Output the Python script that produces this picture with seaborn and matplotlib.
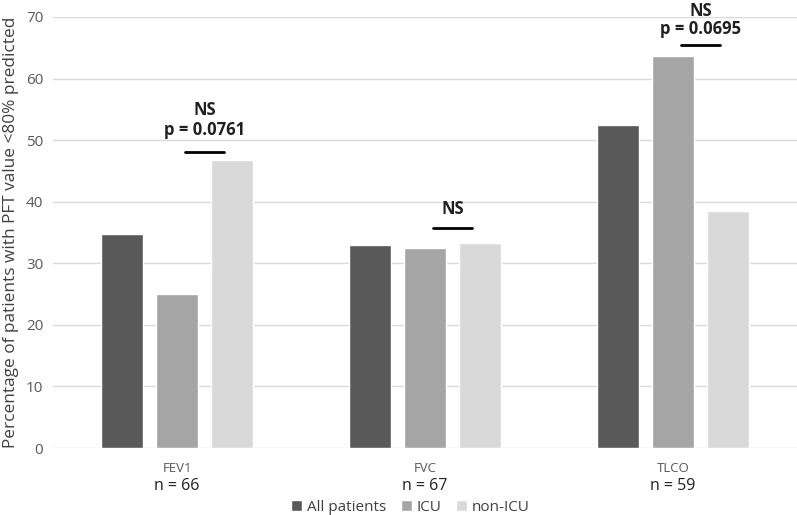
import pandas as pd
import matplotlib
matplotlib.use("Agg")
import matplotlib.pyplot as plt
import matplotlib.transforms as mtransforms
import seaborn as sns


# Values
tests = ["FEV1", "FVC", "TLCO"]
n_labels = ["n = 66", "n = 67", "n = 59"]
groups = ["All patients", "ICU", "non-ICU"]
all_patients = [34.8, 33.0, 52.5]
icu = [25.0, 32.5, 63.6]
non_icu = [46.7, 33.3, 38.5]
colours = ["#595959", "#a5a5a5", "#d9d9d9"]

# significance marks (ICU vs non-ICU): bar height, p-value label
sig_bar = [48.1, 35.7, 65.5]
sig_p = ["p = 0.0761", None, "p = 0.0695"]


def build_df():
    """
    Long format table for seaborn
    """
    rows = []
    for name, vals in zip(groups, [all_patients, icu, non_icu]):
        for t, v in zip(tests, vals):
            rows.append({"test": t, "group": name, "value": v})
    return pd.DataFrame(rows)


def main():
    df = build_df()

    sns.set_style("white")
    plt.rcParams["font.family"] = ["Open Sans", "DejaVu Sans"]

    fig = plt.figure(figsize=(7.97, 5.15), dpi=100)
    ax = fig.add_axes([0.0665, 0.13, 0.9335, 0.837])

    sns.barplot(data=df, x="test", y="value", hue="group", order=tests,
                hue_order=groups, palette=colours, width=0.665, gap=0.22,
                saturation=1, ax=ax, legend=True)

    ax.set_xlim(-0.5, 2.5)
    ax.set_ylim(0, 70)
    ax.set_yticks(range(0, 71, 10))
    ax.yaxis.grid(True, color="#d9d9d9", linewidth=1)
    ax.set_axisbelow(True)
    sns.despine(ax=ax, left=True, bottom=True)
    ax.tick_params(axis="both", length=0, colors="#595959")
    ax.tick_params(axis="y", pad=7, labelsize=11)
    ax.tick_params(axis="x", pad=10, labelsize=9.5)
    ax.set_xlabel("")
    ax.set_ylabel("Percentage of patients with PFT value <80% predicted",
                  fontsize=12.4, color="#404040", labelpad=5)

    # n = .. under each category name
    trans = mtransforms.blended_transform_factory(ax.transData, ax.transAxes)
    for i, lab in enumerate(n_labels):
        ax.text(i, -0.088, lab, transform=trans, ha="center", va="center",
                fontsize=11.5, color="#202020")

    # significance bars between ICU and non-ICU bars
    mid = 0.665 / 6
    # text offsets above the bar, in data units (differ per group as in the original)
    p_off = [3.5, None, 2.5]
    ns_off = [6.8, 3.1, 5.5]
    for i, y in enumerate(sig_bar):
        x = i + mid
        ax.plot([x - 0.08, x + 0.08], [y, y], color="black", lw=2,
                clip_on=False)
        ax.text(x, y + ns_off[i], "NS", ha="center", va="center",
                fontsize=12, fontweight="bold", color="#202020",
                clip_on=False)
        if sig_p[i]:
            ax.text(x, y + p_off[i], sig_p[i], ha="center", va="center",
                    fontsize=12, fontweight="bold", color="#202020",
                    clip_on=False)

    handles, labels = ax.get_legend_handles_labels()
    ax.get_legend().remove()
    fig.legend(handles, labels, loc="center", bbox_to_anchor=(0.515, 0.015),
               ncol=3, frameon=False, fontsize=11, handlelength=0.7,
               handleheight=0.7, handletextpad=0.3, columnspacing=1.0,
               labelcolor="#404040")

    fig.savefig("out.png", dpi=100)


if __name__ == '__main__':
    main()
